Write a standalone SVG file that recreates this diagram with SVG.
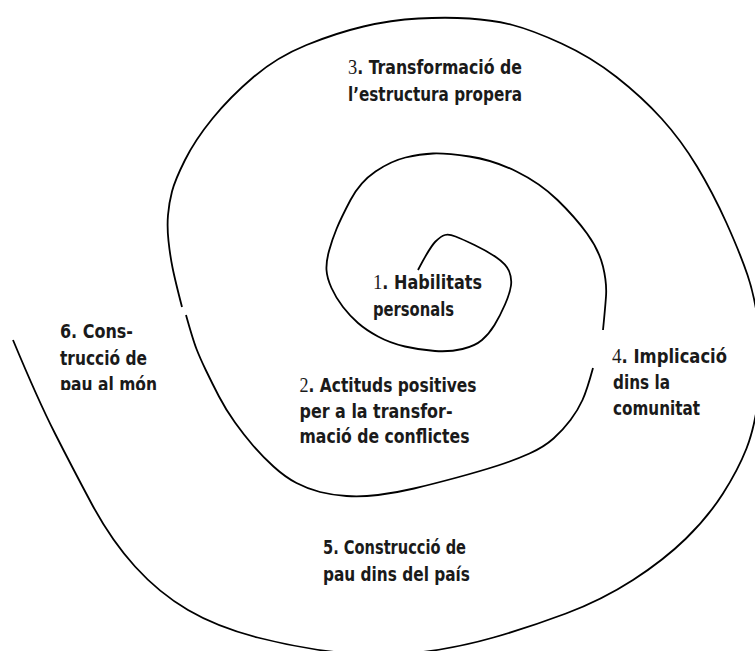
<svg xmlns="http://www.w3.org/2000/svg" width="755" height="651" viewBox="0 0 755 651">
<style>
.bg{fill:#ffffff}
.sp{fill:none;stroke:#000000;stroke-width:1.8;stroke-linecap:butt;stroke-linejoin:round}
.t{font-family:"DejaVu Sans Condensed","Liberation Sans Narrow","Liberation Sans",sans-serif;font-size:20px;font-weight:bold;fill:#1a1a1a}
.d{font-family:"Liberation Serif","Times New Roman",serif;font-weight:normal;font-size:21px}
</style>
<defs>
<clipPath id="cut6"><rect x="0" y="0" width="755" height="390"/></clipPath>
</defs>
<rect class="bg" x="0" y="0" width="755" height="651"/>
<g id="connectors">
<path class="sp" d="M 418 270 Q 430 247 435.5 241.5 Q 441 236 445 235 Q 449 234 455.5 236.5 Q 462 239 474.5 245 Q 487 251 496.5 257.5 Q 506 264 509 271 Q 512 278 511 285.5 Q 510 293 505 304.5 Q 500 316 494.5 325 Q 489 334 482 340 Q 475 346 462.5 349 Q 450 352 435 351 Q 420 350 405 346.5 Q 390 343 378 336.5 Q 366 330 358 323 Q 350 316 343 307 Q 336 298 331.5 288 Q 327 278 326.5 270 Q 326 262 329 251 Q 332 240 336.5 229 Q 341 218 350.5 200 Q 360 182 375.5 171.5 Q 391 161 405.5 157.5 Q 420 154 433 153.5 Q 446 153 469.5 156.5 Q 493 160 516.5 171.5 Q 540 183 557.5 200 Q 575 217 587 233.5 Q 599 250 603 266.5 Q 607 283 606 296.5 Q 605 310 603 330"/>
<path class="sp" d="M 593 368 Q 587 390 582.5 400 Q 578 410 570.5 420 Q 563 430 553.5 438.5 Q 544 447 529.5 453.5 Q 515 460 498 465.5 Q 481 471 457 477.5 Q 433 484 414 488.5 Q 395 493 378 495 Q 361 497 346.5 496 Q 332 495 320 492 Q 308 489 296.5 483 Q 285 477 273.5 466.5 Q 262 456 253 445.5 Q 244 435 235 422.5 Q 226 410 219 396.5 Q 212 383 206 370.5 Q 200 358 196.5 349 Q 193 340 186 315"/>
<path class="sp" d="M 182 307 Q 175 280 172.5 267.5 Q 170 255 168.5 241 Q 167 227 168 215 Q 169 203 172 191.5 Q 175 180 185 160 Q 195 140 212.5 118.5 Q 230 97 253.5 77 Q 277 57 306.5 45 Q 336 33 363.5 26.5 Q 391 20 418.5 18.5 Q 446 17 469.5 18.5 Q 493 20 512.5 25 Q 532 30 561.5 43.5 Q 591 57 616.5 77 Q 642 97 661.5 118.5 Q 681 140 697 166.5 Q 713 193 726.5 223 Q 740 253 747.5 275 Q 755 297 759 328.5 Q 763 360 759 393.5 Q 755 427 746.5 448.5 Q 738 470 723 493.5 Q 708 517 686 538.5 Q 664 560 633 580 Q 602 600 566 613.5 Q 530 627 493.5 637.5 Q 457 648 418.5 652.5 Q 380 657 339 652.5 Q 298 648 257.5 637.5 Q 217 627 188 610 Q 159 593 135 566.5 Q 111 540 91.5 503.5 Q 72 467 55 433.5 Q 38 400 13 340"/>
</g>
<g id="n1">
<text class="t" x="373" y="289" textLength="109" lengthAdjust="spacingAndGlyphs"><tspan class="d">1</tspan>. Habilitats</text>
<text class="t" x="373" y="316" textLength="81" lengthAdjust="spacingAndGlyphs">personals</text>
</g>
<g id="n2">
<text class="t" x="299.5" y="392" textLength="177" lengthAdjust="spacingAndGlyphs"><tspan class="d">2</tspan>. Actituds positives</text>
<text class="t" x="299.5" y="417.5" textLength="153" lengthAdjust="spacingAndGlyphs">per a la transfor-</text>
<text class="t" x="299.5" y="443" textLength="170" lengthAdjust="spacingAndGlyphs">mació de conflictes</text>
</g>
<g id="n3">
<text class="t" x="348" y="74" textLength="174" lengthAdjust="spacingAndGlyphs"><tspan class="d">3</tspan>. Transformació de</text>
<text class="t" x="348" y="101" textLength="174" lengthAdjust="spacingAndGlyphs">l’estructura propera</text>
</g>
<g id="n4">
<text class="t" x="612" y="363" textLength="115" lengthAdjust="spacingAndGlyphs"><tspan class="d">4</tspan>. Implicació</text>
<text class="t" x="613" y="389" textLength="57" lengthAdjust="spacingAndGlyphs">dins la</text>
<text class="t" x="613" y="415" textLength="87" lengthAdjust="spacingAndGlyphs">comunitat</text>
</g>
<g id="n5">
<text class="t" x="323" y="554" textLength="143" lengthAdjust="spacingAndGlyphs">5. Construcció de</text>
<text class="t" x="323" y="581" textLength="147" lengthAdjust="spacingAndGlyphs">pau dins del país</text>
</g>
<g id="n6">
<text class="t" x="60" y="338" textLength="73" lengthAdjust="spacingAndGlyphs">6. Cons-</text>
<text class="t" x="60" y="365" textLength="87" lengthAdjust="spacingAndGlyphs">trucció de</text>
<text class="t" x="60" y="391" textLength="97" lengthAdjust="spacingAndGlyphs" clip-path="url(#cut6)">pau al món</text>
</g>
</svg>
